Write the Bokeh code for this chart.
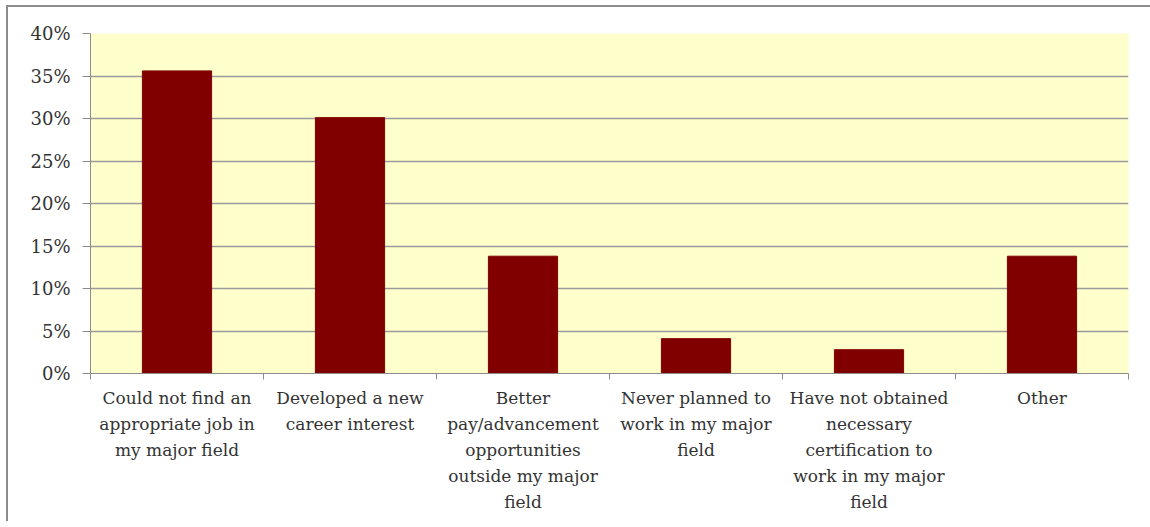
from bokeh.plotting import figure
from bokeh.models import FixedTicker, NumeralTickFormatter, Range1d
from bokeh.embed import file_html
from bokeh.resources import INLINE

categories = [
    "Could not find an\nappropriate job in\nmy major field",
    "Developed a new\ncareer interest",
    "Better\npay/advancement\nopportunities\noutside my major\nfield",
    "Never planned to\nwork in my major\nfield",
    "Have not obtained\nnecessary\ncertification to\nwork in my major\nfield",
    "Other",
]
values = [0.356, 0.301, 0.138, 0.041, 0.028, 0.138]
y_ticks = [0, 0.05, 0.10, 0.15, 0.20, 0.25, 0.30, 0.35, 0.40]

n = len(categories)
centers = [i + 0.5 for i in range(n)]
bounds = [float(i) for i in range(n + 1)]

p = figure(width=1144, height=516, output_backend="svg", toolbar_location=None,
           x_range=Range1d(0, n), y_range=Range1d(0, 0.40),
           min_border_left=82, min_border_right=24, min_border_top=26, min_border_bottom=150)
p.border_fill_color = "white"
p.outline_line_color = None
p.styles = {"margin-left": "6px", "margin-top": "5px",
            "border-left": "2px solid #8c8c8c", "border-top": "2px solid #8c8c8c",
            "border-right": "none", "border-bottom": "none"}

p.vbar(x=centers, top=values, width=0.4, fill_color="#800000", line_color="#800000")

FONT = "DejaVu Serif"

# y axis
p.yaxis.ticker = FixedTicker(ticks=y_ticks)
p.yaxis.formatter = NumeralTickFormatter(format="0%")
p.yaxis.major_label_text_font = FONT
p.yaxis.major_label_text_font_size = "18px"
p.yaxis.major_label_text_color = "#333333"
p.yaxis.major_tick_in = 0
p.yaxis.major_tick_out = 8
p.yaxis.minor_tick_line_color = None
p.yaxis.major_label_standoff = 12
p.yaxis.axis_line_color = "#8c8c8c"
p.yaxis.major_tick_line_color = "#8c8c8c"

# x axis
p.xaxis.ticker = FixedTicker(ticks=centers, minor_ticks=bounds)
p.xaxis.major_label_overrides = {c: lab for c, lab in zip(centers, categories)}
p.xaxis.major_tick_in = 0
p.xaxis.major_tick_out = 0
p.xaxis.minor_tick_in = 0
p.xaxis.minor_tick_out = 6
p.xaxis.minor_tick_line_color = "#8c8c8c"
p.xaxis.axis_line_color = "#8c8c8c"
p.xaxis.major_label_text_font = FONT
p.xaxis.major_label_text_font_size = "17px"
p.xaxis.major_label_text_color = "#333333"
p.xaxis.major_label_text_line_height = 1.3
p.xaxis.major_label_standoff = 8

p.xgrid.grid_line_color = None
p.ygrid.ticker = FixedTicker(ticks=y_ticks)
p.ygrid.grid_line_color = "#9a9a9a"
p.ygrid.grid_line_width = 1.5

p.background_fill_color = "#FFFFCC"

open("out.html", "w").write(file_html(p, INLINE))
